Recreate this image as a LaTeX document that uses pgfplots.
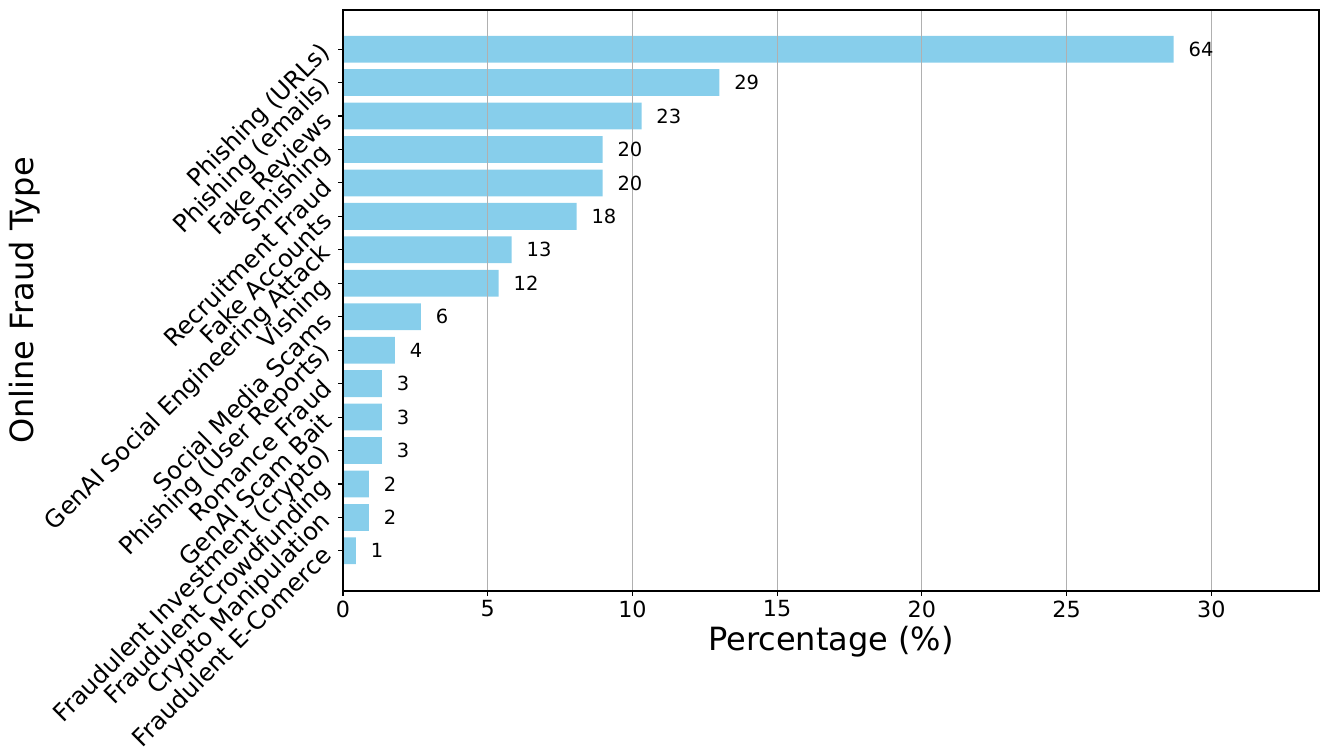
\documentclass[border=0pt]{standalone}
\usepackage{fontspec}
\setmainfont{DejaVu Sans}
\usepackage{pgfplots}
\usepackage{pgfplotstable}
\pgfplotsset{compat=1.18}
\definecolor{skyblue}{HTML}{87CEEB}
\definecolor{gridgray}{HTML}{B0B0B0}

\pgfplotstableread{
y pct count
0 28.700 64
1 13.004 29
2 10.314 23
3 8.969 20
4 8.969 20
5 8.072 18
6 5.830 13
7 5.381 12
8 2.691 6
9 1.794 4
10 1.345 3
11 1.345 3
12 1.345 3
13 0.897 2
14 0.897 2
15 0.448 1
}\data

\begin{document}
\begin{tikzpicture}
\begin{axis}[
  at={(0,0)}, anchor=south west,
  scale only axis, width=732pt, height=435.75pt,
  xbar, bar width=0.8,
  xmin=0, xmax=33.72, ymin=-1.17, ymax=16.2, y dir=reverse,
  ytick={0,...,15},
  yticklabels={Phishing (URLs),Phishing (emails),Fake Reviews,Smishing,Recruitment Fraud,Fake Accounts,GenAI Social Engineering Attack,Vishing,Social Media Scams,Phishing (User Reports),Romance Fraud,GenAI Scam Bait,Fraudulent Investment (crypto),Fraudulent Crowdfunding,Crypto Manipulation,Fraudulent E-Comerce},
  xtick={0,5,...,30},
  xmajorgrids, major grid style={gridgray, line width=0.8pt},
  axis on top,
  tick align=outside, tick pos=left,
  major tick length=3.6pt,
  axis line style={black, line width=0.8pt},
  tick style={black, line width=0.8pt},
  xticklabel style={font=\fontsize{16.7}{20}\selectfont},
  yticklabel style={font=\fontsize{18.2}{22}\selectfont, inner sep=0pt, xshift=-8.5pt, rotate=45, anchor=east},
  /pgf/number format/assume math mode=true,
  xlabel={Percentage (\%)}, ylabel={Online Fraud Type},
  every axis x label/.style={at={(axis description cs:0.5,0)}, anchor=center, yshift=-38.25pt, font=\fontsize{24}{29}\selectfont},
  every axis y label/.style={at={(axis description cs:-0.3265,0.5)}, anchor=center, rotate=90, font=\fontsize{24}{29}\selectfont},
  point meta=explicit symbolic,
]
\addplot[fill=skyblue, draw=none, nodes near coords,
  nodes near coords style={anchor=west, inner sep=0pt, xshift=11pt, font=\fontsize{14.6}{17}\selectfont}]
  table[x=pct, y=y, meta=count] {\data};
\end{axis}
\pgfresetboundingbox
\path[use as bounding box] (-257.25pt,-123.75pt) rectangle (739.5pt,443.25pt);
\end{tikzpicture}
\end{document}
